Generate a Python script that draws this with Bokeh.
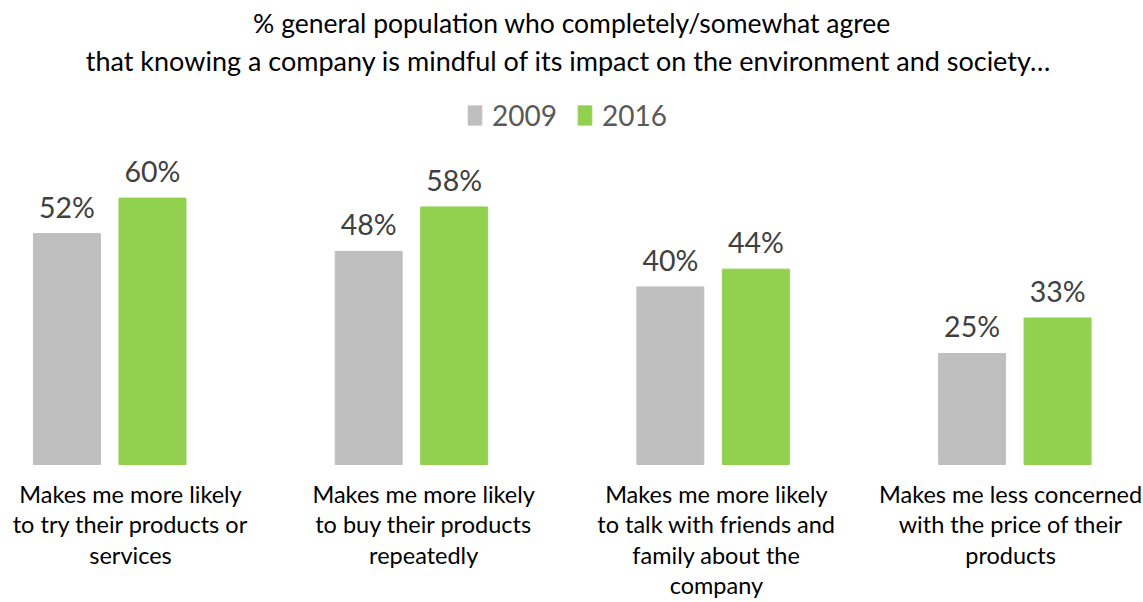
from bokeh.plotting import figure
from bokeh.models import ColumnDataSource, Label, Legend, LegendItem, Range1d
from bokeh.core.properties import value
from bokeh.embed import file_html
from bokeh.resources import INLINE

categories = [
    "Makes me more likely\nto try their products or\nservices",
    "Makes me more likely\nto buy their products\nrepeatedly",
    "Makes me more likely\nto talk with friends and\nfamily about the\ncompany",
    "Makes me less concerned\nwith the price of their\nproducts",
]
years = ["2009", "2016"]
values_2009 = [52, 48, 40, 25]
values_2016 = [60, 58, 44, 33]
title_lines = [
    "% general population who completely/somewhat agree",
    "that knowing a company is mindful of its impact on the environment  and society\u2026",
]

FONT = "Lato"
GRAY = "#BFBFBF"
GREEN = "#92D050"
LABEL_SHIFT_PX = [21, 12.5, 3.5, -4]   # category text boxes are not exactly centred on groups

W, H = 1143, 602
p = figure(width=W, height=H, output_backend="svg", toolbar_location=None,
           x_range=Range1d(-0.3613, 3.4273), y_range=Range1d(-31.08, 104.5),
           min_border=0)
p.axis.visible = False
p.grid.visible = False
p.outline_line_color = None

idx = list(range(len(categories)))
src = ColumnDataSource(dict(
    x1=[i - 0.141 for i in idx], x2=[i + 0.1425 for i in idx],
    v1=values_2009, v2=values_2016,
    l1=[f"{v}%" for v in values_2009], l2=[f"{v}%" for v in values_2016],
    xc=idx, cat=categories, yc=[-3.4] * len(idx), dx=LABEL_SHIFT_PX,
))

r1 = p.vbar(x="x1", top="v1", bottom=0, width=0.222, color=GRAY, source=src)
r2 = p.vbar(x="x2", top="v2", bottom=0, width=0.222, color=GREEN, source=src)

for xs, ls, vs in (("x1", "l1", "v1"), ("x2", "l2", "v2")):
    p.text(x=xs, y=vs, text=ls, source=src, y_offset=-10,
           text_align="center", text_baseline="bottom",
           text_font=value(FONT), text_font_size="28.5px", text_color="#404040")

p.text(x="xc", y="yc", text="cat", source=src, x_offset="dx", text_align="center",
       text_baseline="top", text_font=value(FONT), text_font_size="23.5px",
       text_color="#000000", text_line_height=1.09)

for t, ypix, fs in zip(title_lines, [22, 60], ["26.5px", "27px"]):
    p.add_layout(Label(x=W / 2, y=H - ypix, x_units="screen", y_units="screen",
                       text=t, text_align="center", text_baseline="middle",
                       text_font=FONT, text_font_size=fs, text_color="#000000"))

legend = Legend(items=[LegendItem(label=years[0], renderers=[r1]),
                       LegendItem(label=years[1], renderers=[r2])],
                orientation="horizontal", location=(466, H - 132),
                label_text_font=FONT, label_text_font_size="28px",
                label_text_color="#595959", glyph_width=17, glyph_height=24,
                spacing=19, border_line_color=None, background_fill_alpha=0,
                padding=0, margin=0, label_standoff=9)
p.add_layout(legend)

open("out.html", "w").write(file_html(p, INLINE))
